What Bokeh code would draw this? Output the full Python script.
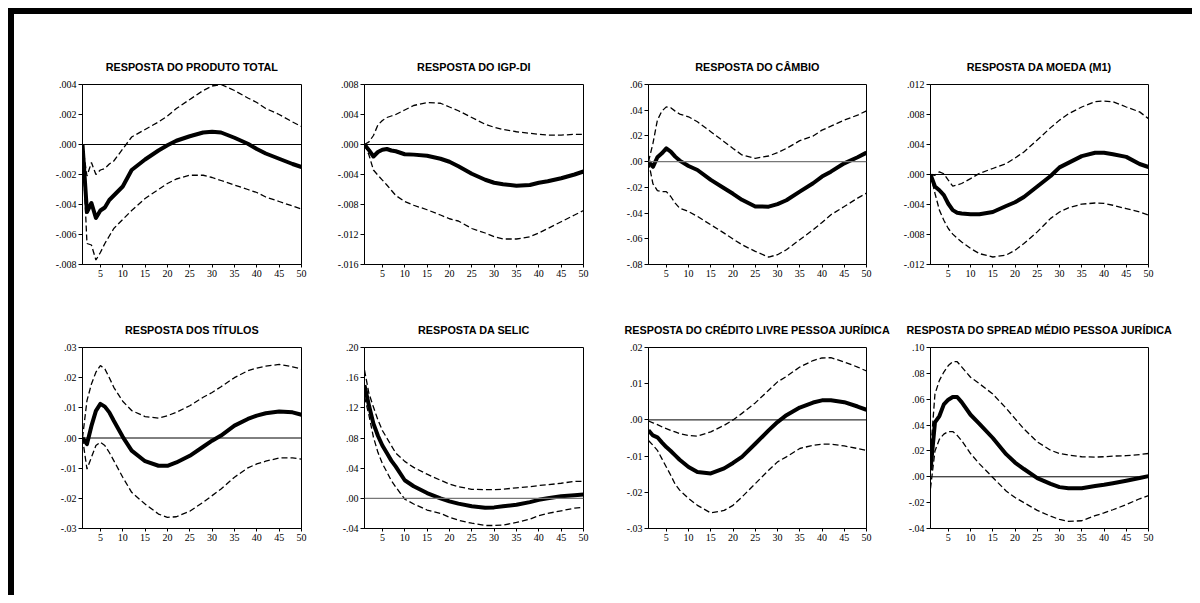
from bokeh.plotting import figure
from bokeh.layouts import row, column
from bokeh.models import Range1d, Span, FixedTicker, CustomJSTickFormatter, Spacer
from bokeh.embed import file_html
from bokeh.resources import INLINE

# ---------------- data ----------------
periods = [1, 2, 3, 4, 5, 6, 7, 8, 10, 12, 15, 18, 20, 22, 25, 28, 30, 32, 35, 38, 40, 42, 45, 48, 50]
x_ticks = [5, 10, 15, 20, 25, 30, 35, 40, 45, 50]

titles = [
    "RESPOSTA DO PRODUTO TOTAL",
    "RESPOSTA DO IGP-DI",
    "RESPOSTA DO CÂMBIO",
    "RESPOSTA DA MOEDA (M1)",
    "RESPOSTA DOS TÍTULOS",
    "RESPOSTA DA SELIC",
    "RESPOSTA DO CRÉDITO LIVRE PESSOA JURÍDICA",
    "RESPOSTA DO SPREAD MÉDIO PESSOA JURÍDICA",
]

produto_resp = [0.0, -0.0045, -0.0039, -0.0049, -0.0044, -0.0042, -0.0037, -0.0034, -0.0028, -0.0017, -0.0010, -0.0004, -0.00005, 0.00025, 0.00055, 0.0008, 0.00085, 0.0008, 0.00045, 0.00005, -0.0003, -0.0006, -0.00095, -0.0013, -0.0015]
produto_hi = [0.0, -0.0021, -0.0012, -0.0020, -0.0017, -0.0016, -0.0013, -0.0011, -0.0003, 0.0005, 0.0010, 0.0015, 0.0019, 0.0024, 0.0030, 0.0036, 0.0039, 0.0040, 0.0036, 0.0031, 0.0028, 0.0024, 0.0020, 0.0015, 0.0012]
produto_lo = [0.0, -0.0066, -0.0067, -0.0077, -0.0072, -0.0066, -0.0061, -0.0056, -0.0050, -0.0044, -0.0036, -0.0030, -0.0026, -0.0023, -0.00205, -0.00205, -0.0022, -0.0024, -0.0027, -0.0030, -0.0032, -0.0035, -0.0038, -0.0041, -0.0043]

igp_resp = [0.0, -0.00075, -0.0016, -0.0010, -0.0007, -0.0006, -0.0008, -0.0009, -0.0013, -0.00135, -0.0015, -0.0019, -0.0023, -0.0029, -0.0039, -0.0047, -0.0051, -0.0053, -0.0055, -0.0054, -0.0051, -0.0049, -0.0045, -0.0040, -0.0036]
igp_hi = [0.0, 0.00035, 0.0012, 0.0026, 0.0032, 0.0036, 0.0038, 0.0040, 0.0046, 0.0052, 0.0056, 0.0055, 0.0050, 0.0045, 0.0036, 0.0027, 0.0023, 0.0020, 0.0017, 0.0015, 0.00135, 0.00125, 0.00125, 0.00135, 0.00135]
igp_lo = [0.0, -0.0014, -0.0034, -0.0041, -0.00475, -0.0054, -0.0061, -0.0068, -0.0076, -0.0081, -0.0087, -0.0094, -0.0099, -0.0102, -0.0112, -0.0118, -0.0123, -0.0126, -0.0126, -0.0123, -0.0118, -0.0112, -0.0103, -0.0094, -0.0088]

cambio_resp = [0.0, -0.004, 0.0034, 0.0065, 0.0103, 0.0078, 0.0039, 0.0008, -0.0034, -0.0065, -0.0142, -0.0207, -0.025, -0.0297, -0.0349, -0.035, -0.033, -0.030, -0.0233, -0.0168, -0.0116, -0.0078, -0.0013, 0.0034, 0.0070]
cambio_hi = [0.0, 0.0142, 0.0323, 0.0393, 0.0426, 0.042, 0.0393, 0.037, 0.0349, 0.031, 0.0233, 0.0155, 0.0103, 0.0052, 0.0026, 0.0044, 0.0070, 0.0103, 0.0163, 0.0199, 0.0245, 0.0276, 0.0323, 0.0362, 0.0395]
cambio_lo = [0.0, -0.0173, -0.0225, -0.0233, -0.0233, -0.0271, -0.0323, -0.0362, -0.0388, -0.0426, -0.0491, -0.0556, -0.0602, -0.0646, -0.0698, -0.0742, -0.0724, -0.0685, -0.0607, -0.053, -0.0473, -0.0413, -0.0349, -0.0284, -0.0245]

moeda_resp = [0.0, -0.0016, -0.0021, -0.00275, -0.0039, -0.00475, -0.0051, -0.0052, -0.0053, -0.0053, -0.0050, -0.0042, -0.0037, -0.0030, -0.0016, -0.0002, 0.00095, 0.00155, 0.00245, 0.0029, 0.0029, 0.0027, 0.00235, 0.0014, 0.0010]
moeda_hi = [0.0, -0.0001, 0.00035, 0.0001, -0.00075, -0.00155, -0.0014, -0.0012, -0.00055, 0.00015, 0.0008, 0.00145, 0.0022, 0.0030, 0.0046, 0.00625, 0.00725, 0.0081, 0.0090, 0.0097, 0.0098, 0.0097, 0.0090, 0.00835, 0.00745]
moeda_lo = [0.0, -0.0025, -0.00475, -0.0061, -0.0072, -0.00795, -0.0085, -0.0090, -0.00985, -0.01055, -0.0110, -0.01075, -0.0101, -0.0092, -0.00765, -0.00585, -0.0050, -0.00445, -0.00395, -0.0038, -0.00385, -0.0041, -0.00455, -0.0050, -0.0054]

titulos_resp = [0.0, -0.002, 0.004, 0.009, 0.0113, 0.0104, 0.0085, 0.0057, 0.0004, -0.0042, -0.0077, -0.0092, -0.0092, -0.0081, -0.0059, -0.0029, -0.0009, 0.0008, 0.0041, 0.0063, 0.0074, 0.0082, 0.0088, 0.0085, 0.0077]
titulos_hi = [0.0, 0.0124, 0.0179, 0.0218, 0.024, 0.0229, 0.020, 0.0168, 0.0122, 0.0091, 0.0071, 0.0066, 0.0074, 0.0085, 0.0107, 0.0135, 0.0151, 0.017, 0.020, 0.0223, 0.0232, 0.0238, 0.0244, 0.0236, 0.0229]
titulos_lo = [0.0, -0.0103, -0.0064, -0.0025, -0.0014, -0.0025, -0.0048, -0.0075, -0.013, -0.018, -0.0219, -0.0252, -0.0263, -0.0261, -0.0243, -0.0213, -0.0191, -0.0169, -0.013, -0.0099, -0.0086, -0.0077, -0.0066, -0.0066, -0.0070]

selic_resp = [0.150, 0.123, 0.099, 0.083, 0.070, 0.060, 0.050, 0.042, 0.024, 0.016, 0.007, 0.000, -0.004, -0.007, -0.0105, -0.0125, -0.012, -0.0105, -0.0085, -0.005, -0.002, 0.000, 0.0027, 0.004, 0.005]
selic_hi = [0.170, 0.139, 0.121, 0.104, 0.090, 0.080, 0.070, 0.060, 0.049, 0.041, 0.032, 0.024, 0.019, 0.0155, 0.012, 0.0115, 0.0115, 0.012, 0.014, 0.0155, 0.017, 0.018, 0.020, 0.0225, 0.0225]
selic_lo = [0.135, 0.110, 0.081, 0.061, 0.046, 0.035, 0.0235, 0.015, -0.001, -0.0075, -0.0155, -0.020, -0.025, -0.029, -0.033, -0.036, -0.036, -0.0355, -0.032, -0.0275, -0.023, -0.020, -0.0165, -0.013, -0.012]

credito_resp = [-0.0029, -0.0043, -0.0048, -0.0062, -0.0075, -0.0086, -0.0098, -0.011, -0.013, -0.0144, -0.0148, -0.0134, -0.0119, -0.0102, -0.0066, -0.0029, -0.0006, 0.0013, 0.0034, 0.0048, 0.0054, 0.0054, 0.0049, 0.0037, 0.0028]
credito_hi = [-0.0003, -0.0008, -0.0013, -0.0019, -0.0024, -0.0029, -0.0033, -0.0038, -0.0043, -0.0045, -0.0033, -0.0015, 0.0, 0.0018, 0.0047, 0.0082, 0.0105, 0.012, 0.0146, 0.0164, 0.0171, 0.0172, 0.016, 0.0146, 0.0135]
credito_lo = [-0.0057, -0.007, -0.0084, -0.0107, -0.013, -0.0153, -0.0178, -0.0194, -0.0217, -0.0236, -0.0257, -0.025, -0.0236, -0.0213, -0.0176, -0.0139, -0.0116, -0.0102, -0.0079, -0.007, -0.0067, -0.0067, -0.0072, -0.0079, -0.0084]

spread_resp = [0.005, 0.042, 0.047, 0.056, 0.0596, 0.0617, 0.0617, 0.0578, 0.048, 0.041, 0.030, 0.0175, 0.011, 0.006, -0.001, -0.0055, -0.008, -0.0088, -0.0088, -0.0072, -0.0062, -0.005, -0.003, -0.001, 0.0005]
spread_hi = [0.018, 0.064, 0.0746, 0.081, 0.086, 0.089, 0.089, 0.085, 0.077, 0.072, 0.064, 0.053, 0.045, 0.037, 0.027, 0.0205, 0.018, 0.0168, 0.0155, 0.0152, 0.0155, 0.016, 0.0163, 0.0172, 0.018]
spread_lo = [-0.009, 0.020, 0.029, 0.033, 0.035, 0.035, 0.032, 0.028, 0.018, 0.010, -0.0005, -0.011, -0.016, -0.020, -0.026, -0.0305, -0.033, -0.0345, -0.034, -0.030, -0.028, -0.0255, -0.0215, -0.017, -0.0145]

y_ticks = [
    [-0.008, -0.006, -0.004, -0.002, 0.0, 0.002, 0.004],
    [-0.016, -0.012, -0.008, -0.004, 0.0, 0.004, 0.008],
    [-0.08, -0.06, -0.04, -0.02, 0.0, 0.02, 0.04, 0.06],
    [-0.012, -0.008, -0.004, 0.0, 0.004, 0.008, 0.012],
    [-0.03, -0.02, -0.01, 0.0, 0.01, 0.02, 0.03],
    [-0.04, 0.0, 0.04, 0.08, 0.12, 0.16, 0.20],
    [-0.03, -0.02, -0.01, 0.0, 0.01, 0.02],
    [-0.04, -0.02, 0.0, 0.02, 0.04, 0.06, 0.08, 0.10],
]
y_decimals = [3, 3, 2, 3, 2, 2, 2, 2]

series = [
    (produto_resp, produto_lo, produto_hi),
    (igp_resp, igp_lo, igp_hi),
    (cambio_resp, cambio_lo, cambio_hi),
    (moeda_resp, moeda_lo, moeda_hi),
    (titulos_resp, titulos_lo, titulos_hi),
    (selic_resp, selic_lo, selic_hi),
    (credito_resp, credito_lo, credito_hi),
    (spread_resp, spread_lo, spread_hi),
]

# ---------------- layout ----------------
COL_W = [316, 260, 308, 294]
COL_L = [68, 34, 58, 32]
COL_F = [219, 219, 218, 218]
ROW_H = [280, 301]
ROW_T = [70, 53]
ROW_F = [180, 181]

TICK_FONT = "Liberation Sans Narrow"
TITLE_FONT = "Liberation Sans"

fmt_code = """
const s = tick.toFixed(dec);
return s.replace(/^(-?)0\\./, '$1.');
"""

figs = []
for i in range(8):
    r, c = divmod(i, 4)
    resp, lo, hi = series[i]
    ticks = y_ticks[i]
    p = figure(
        width=COL_W[c], height=ROW_H[r],
        x_range=Range1d(1, 50), y_range=Range1d(ticks[0], ticks[-1]),
        output_backend="svg", toolbar_location=None,
        min_border_left=COL_L[c], min_border_right=COL_W[c] - COL_L[c] - COL_F[c],
        min_border_top=ROW_T[r], min_border_bottom=ROW_H[r] - ROW_T[r] - ROW_F[r],
        background_fill_color="white", border_fill_color="white",
    )
    p.title.text = titles[i]
    p.title.align = "center"
    p.title.text_font = TITLE_FONT
    p.title.text_font_size = "10.8px"
    p.title.text_font_style = "bold"
    p.title.text_color = "black"
    p.title.standoff = 23

    p.outline_line_color = "black"
    p.outline_line_width = 1
    p.xgrid.visible = False
    p.ygrid.visible = False

    for ax in (p.xaxis[0], p.yaxis[0]):
        ax.axis_line_color = "black"
        ax.major_tick_line_color = "black"
        ax.minor_tick_line_color = None
        ax.major_tick_in = 0
        ax.major_label_text_font = TICK_FONT
        ax.major_label_text_font_size = "10px"
        ax.major_label_text_color = "black"
        ax.major_label_standoff = 2
    p.xaxis.ticker = FixedTicker(ticks=x_ticks)
    p.xaxis.major_tick_out = 3
    p.yaxis.ticker = FixedTicker(ticks=ticks)
    p.yaxis.major_tick_out = 4
    p.yaxis.formatter = CustomJSTickFormatter(args=dict(dec=y_decimals[i]), code=fmt_code)

    zero_color = "#777777" if i in (2, 5) else "black"
    p.add_layout(Span(location=0, dimension="width", line_color=zero_color,
                      line_width=1.3 if i in (2, 5) else 1))

    p.line(periods, hi, line_color="black", line_width=1.3, line_dash="6 3")
    p.line(periods, lo, line_color="black", line_width=1.3, line_dash="6 3")
    p.line(periods, resp, line_color="black", line_width=4, line_join="round")
    figs.append(p)

bar_style = {"background-color": "black"}
top_bar = Spacer(width=1184, height=6, styles=bar_style)
left_bar = Spacer(width=6, height=581, styles=bar_style)
grid = column(row(*figs[:4]), row(*figs[4:]))
framed = column(top_bar, row(left_bar, grid))
page = column(Spacer(width=1192, height=8), row(Spacer(width=8, height=587), framed))

open("out.html", "w").write(file_html(page, INLINE))
